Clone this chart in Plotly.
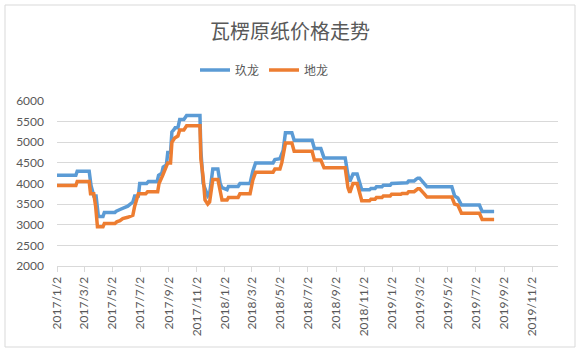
import plotly.graph_objects as go

# 玖龙 series
jl_dates = ["2017-01-02","2017-02-12","2017-02-15","2017-03-13","2017-03-17","2017-03-23","2017-03-28","2017-04-02",
            "2017-04-12","2017-04-15","2017-05-08","2017-05-11","2017-05-19","2017-05-25","2017-06-05","2017-06-16",
            "2017-06-20","2017-06-28","2017-07-01","2017-07-16","2017-07-20","2017-08-08","2017-08-11","2017-08-18",
            "2017-08-21","2017-08-28","2017-08-31","2017-09-06","2017-09-09","2017-09-13","2017-09-16","2017-09-22",
            "2017-09-26","2017-10-05","2017-10-11","2017-11-09","2017-11-11","2017-11-16","2017-11-20","2017-11-26",
            "2017-11-30","2017-12-07","2017-12-18","2017-12-23","2017-12-27","2018-01-07","2018-01-10","2018-01-31",
            "2018-02-04","2018-02-26","2018-03-04","2018-03-10","2018-04-17","2018-04-21","2018-05-02","2018-05-05",
            "2018-05-09","2018-05-14","2018-05-28","2018-06-02","2018-07-11","2018-07-16","2018-07-30","2018-08-06",
            "2018-09-21","2018-09-27","2018-10-01","2018-10-08","2018-10-17","2018-10-27","2018-11-13","2018-11-16",
            "2018-11-25","2018-11-28","2018-12-10","2018-12-13","2018-12-28","2018-12-31","2019-01-20","2019-01-23",
            "2019-02-03","2019-02-06","2019-02-18","2019-02-22","2019-02-26","2019-03-02","2019-03-06","2019-03-12",
            "2019-03-18","2019-05-11","2019-05-17","2019-05-24","2019-06-01","2019-07-10","2019-07-16","2019-08-11"]
jl_values = [4200,4200,4300,4300,3950,3700,3700,3200,
             3200,3300,3300,3330,3370,3400,3450,3550,
             3700,3700,4000,4000,4050,4050,4200,4250,
             4400,4450,4750,4750,5250,5300,5350,5350,
             5550,5550,5650,5650,4800,4000,3900,3700,
             3750,4350,4350,4000,3900,3850,3930,3930,
             4000,4000,4300,4500,4500,4580,4600,4700,
             4800,5230,5230,5050,5050,4850,4850,4620,
             4620,4200,4050,4230,4230,3850,3850,3880,
             3880,3920,3920,3960,3960,4000,4000,4020,
             4020,4060,4060,4100,4130,4130,4080,4000,
             3920,3920,3700,3650,3480,3480,3320,3320]

# 地龙 series
dl_dates = ["2017-01-02","2017-02-12","2017-02-15","2017-03-13","2017-03-16","2017-03-23","2017-03-27","2017-03-31",
            "2017-04-12","2017-04-15","2017-05-08","2017-05-12","2017-05-19","2017-05-25","2017-06-05","2017-06-16",
            "2017-06-20","2017-06-28","2017-07-14","2017-07-18","2017-08-09","2017-08-12","2017-08-20","2017-08-31",
            "2017-09-06","2017-09-09","2017-09-15","2017-09-22","2017-09-26","2017-10-05","2017-10-11","2017-11-09",
            "2017-11-11","2017-11-16","2017-11-20","2017-11-26","2017-11-30","2017-12-07","2017-12-18","2017-12-23",
            "2017-12-27","2018-01-07","2018-01-10","2018-01-31","2018-02-04","2018-02-26","2018-03-04","2018-03-10",
            "2018-04-17","2018-04-21","2018-05-02","2018-05-06","2018-05-14","2018-05-28","2018-06-02","2018-07-11",
            "2018-07-16","2018-07-30","2018-08-06","2018-09-21","2018-09-27","2018-10-01","2018-10-08","2018-10-17",
            "2018-10-27","2018-11-13","2018-11-16","2018-11-25","2018-11-28","2018-12-10","2018-12-13","2018-12-28",
            "2018-12-31","2019-01-20","2019-01-23","2019-02-03","2019-02-06","2019-02-18","2019-02-22","2019-02-26",
            "2019-03-02","2019-03-06","2019-03-12","2019-03-18","2019-05-11","2019-05-17","2019-05-24","2019-06-01",
            "2019-07-10","2019-07-16","2019-08-11"]
dl_values = [3950,3950,4050,4050,3750,3750,3450,2950,
             2950,3030,3030,3070,3100,3150,3180,3230,
             3450,3750,3750,3800,3800,4000,4200,4500,
             4500,5000,5100,5150,5300,5300,5400,5400,
             4600,4150,3600,3500,3550,4100,4100,3850,
             3600,3600,3660,3660,3750,3750,4080,4270,
             4270,4350,4350,4500,4980,4980,4780,4780,
             4570,4570,4380,4380,3900,3780,4000,4000,
             3580,3580,3620,3620,3660,3660,3700,3700,
             3740,3740,3760,3760,3800,3800,3840,3870,
             3870,3830,3750,3670,3670,3500,3480,3280,
             3280,3130,3130]

tick_dates = ["2017-01-02","2017-03-02","2017-05-02","2017-07-02","2017-09-02","2017-11-02",
              "2018-01-02","2018-03-02","2018-05-02","2018-07-02","2018-09-02","2018-11-02",
              "2019-01-02","2019-03-02","2019-05-02","2019-07-02","2019-09-02","2019-11-02"]
tick_labels = ["2017/1/2","2017/3/2","2017/5/2","2017/7/2","2017/9/2","2017/11/2",
               "2018/1/2","2018/3/2","2018/5/2","2018/7/2","2018/9/2","2018/11/2",
               "2019/1/2","2019/3/2","2019/5/2","2019/7/2","2019/9/2","2019/11/2"]
y_ticks = [2000,2500,3000,3500,4000,4500,5000,5500,6000]

fig = go.Figure()
fig.add_trace(go.Scatter(x=jl_dates, y=jl_values, mode="lines", name="玖龙",
                         line=dict(color="#5B9BD5", width=3.5)))
fig.add_trace(go.Scatter(x=dl_dates, y=dl_values, mode="lines", name="地龙",
                         line=dict(color="#ED7D31", width=3.5)))

L, R, T, B = 57, 22, 101, 89
W, H = 580, 355
pw = W - L - R
ph = H - T - B

fig.update_layout(
    width=W, height=H,
    margin=dict(l=L, r=R, t=T, b=B),
    paper_bgcolor="white", plot_bgcolor="white",
    font=dict(family="Lato, 'Noto Sans CJK SC', sans-serif", size=12, color="#595959"),
    title=dict(text="瓦楞原纸价格走势", x=0.5, xanchor="center", y=1 - 32 / H, yanchor="middle",
               yref="container",
               font=dict(family="'Noto Sans CJK SC', sans-serif", size=20, color="#595959")),
    legend=dict(orientation="h", x=0.5 - 43 / pw, xanchor="center", y=1 + 31 / ph, yanchor="middle",
                font=dict(family="'Noto Sans CJK SC', sans-serif", size=12, color="#595959"),
                itemwidth=30, tracegroupgap=0),
    showlegend=True,
)
fig.update_xaxes(type="date", range=["2017-01-02", "2019-12-28"],
                 tickvals=tick_dates, ticktext=tick_labels, tickangle=-90,
                 showgrid=False, showline=True, linecolor="#D9D9D9", linewidth=1,
                 ticks="outside", ticklen=5, tickcolor="#D9D9D9",
                 tickfont=dict(size=12, color="#595959"), zeroline=False)
fig.update_yaxes(range=[2000, 6000], tickvals=y_ticks, showgrid=True, gridcolor="#D9D9D9",
                 gridwidth=1, showline=False, zeroline=False, ticks="",
                 ticklabelstandoff=12,
                 tickfont=dict(size=12, color="#595959"))

# outer chart border
fig.add_shape(type="rect", xref="paper", yref="paper",
              x0=(5 - L) / pw, x1=(575 - L) / pw,
              y0=(T + ph - 347) / ph, y1=(T + ph - 5) / ph,
              line=dict(color="#D9D9D9", width=1), fillcolor="rgba(0,0,0,0)", layer="below")

fig.write_html("out.html")
